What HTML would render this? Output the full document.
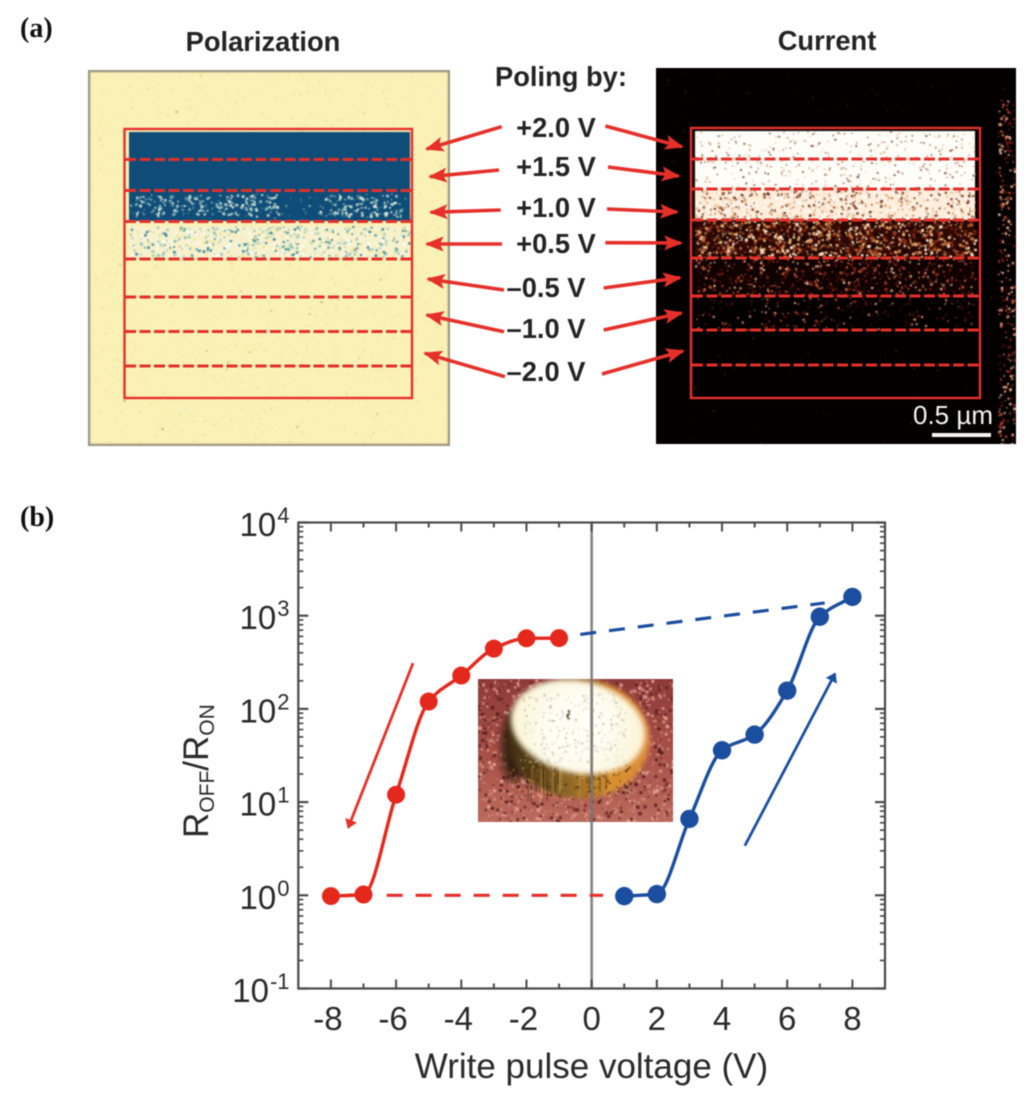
<!DOCTYPE html>
<html lang="en">
<head>
<meta charset="utf-8">
<title>Polarization and current maps with resistance ratio hysteresis</title>
<style>
html,body{margin:0;padding:0;background:#fff;}
#page{position:relative;width:1024px;height:1097px;overflow:hidden;background:#fff;font-family:"Liberation Sans",sans-serif;}
canvas{position:absolute;filter:blur(.6px);}
svg{position:absolute;left:0;top:0;}
.soft{filter:blur(.4px);}
</style>
</head>
<body>
<div id="page">
<canvas id="polar" width="362" height="376" style="left:88px;top:70px"></canvas>
<canvas id="current" width="360" height="376" style="left:656px;top:68px"></canvas>
<canvas id="inset" width="195" height="143" style="left:478px;top:679px"></canvas>

<svg id="overlay" class="soft" width="1024" height="1097" viewBox="0 0 1024 1097">
  <defs>
    <marker id="redHead" viewBox="0 0 10 8" refX="9" refY="4" markerWidth="19" markerHeight="15" markerUnits="userSpaceOnUse" orient="auto"><path d="M0 0L10 4L0 8L2 4Z" fill="#e5302a"/></marker>
  </defs>
  <text x="20" y="37" font-family="Liberation Serif" font-weight="700" font-size="28" fill="#111">(a)</text>
  <text x="20" y="526" font-family="Liberation Serif" font-weight="700" font-size="28" fill="#111">(b)</text>
  <g font-family="Liberation Sans" font-weight="700" font-size="27.3" fill="#242424" text-anchor="middle">
    <text x="263" y="51">Polarization</text>
    <text x="827" y="50">Current</text>
    <text x="561" y="86">Poling by:</text>
    <text x="556" y="137">+2.0 V</text>
    <text x="556" y="176">+1.5 V</text>
    <text x="556" y="217">+1.0 V</text>
    <text x="556" y="253">+0.5 V</text>
    <text x="546" y="297">–0.5 V</text>
    <text x="546" y="338">–1.0 V</text>
    <text x="546" y="381">–2.0 V</text>
  </g>
  <g fill="none" stroke="#e5302a" stroke-width="2.4">
    <rect x="124.5" y="129" width="287.5" height="269"/>
    <g stroke-dasharray="11 3.5" stroke-width="3">
      <line x1="125" x2="411" y1="159.5" y2="159.5"/>
      <line x1="125" x2="411" y1="190.5" y2="190.5"/>
      <line x1="125" x2="411" y1="221.5" y2="221.5"/>
      <line x1="125" x2="411" y1="259" y2="259"/>
      <line x1="125" x2="411" y1="297" y2="297"/>
      <line x1="125" x2="411" y1="331.5" y2="331.5"/>
      <line x1="125" x2="411" y1="366" y2="366"/>
    </g>
  </g>
  <g fill="none" stroke="#e5302a" stroke-width="2.4">
    <rect x="691" y="128" width="289" height="270"/>
    <g stroke-dasharray="11 3.5" stroke-width="3">
      <line x1="692" x2="979" y1="159" y2="159"/>
      <line x1="692" x2="979" y1="189" y2="189"/>
      <line x1="692" x2="979" y1="220" y2="220"/>
      <line x1="692" x2="979" y1="258" y2="258"/>
      <line x1="692" x2="979" y1="296" y2="296"/>
      <line x1="692" x2="979" y1="330" y2="330"/>
      <line x1="692" x2="979" y1="365" y2="365"/>
    </g>
  </g>
  <g stroke="#e5302a" stroke-width="3.6" fill="none">
    <line x1="501.7" y1="126.7" x2="426.7" y2="149" marker-end="url(#redHead)"/>
    <line x1="499" y1="170" x2="430" y2="176.7" marker-end="url(#redHead)"/>
    <line x1="500.7" y1="210" x2="430.7" y2="212.3" marker-end="url(#redHead)"/>
    <line x1="502" y1="244" x2="426.7" y2="244" marker-end="url(#redHead)"/>
    <line x1="504" y1="290" x2="428" y2="279" marker-end="url(#redHead)"/>
    <line x1="504" y1="331.7" x2="426.7" y2="315" marker-end="url(#redHead)"/>
    <line x1="505" y1="376.7" x2="425" y2="353.3" marker-end="url(#redHead)"/>
    <line x1="605.4" y1="126" x2="682" y2="146.7" marker-end="url(#redHead)"/>
    <line x1="608" y1="167" x2="678.6" y2="176" marker-end="url(#redHead)"/>
    <line x1="607" y1="209" x2="677" y2="212" marker-end="url(#redHead)"/>
    <line x1="605.4" y1="242.7" x2="681" y2="243" marker-end="url(#redHead)"/>
    <line x1="603.7" y1="288" x2="680" y2="277.7" marker-end="url(#redHead)"/>
    <line x1="603.7" y1="330" x2="681.4" y2="313" marker-end="url(#redHead)"/>
    <line x1="602" y1="374" x2="683" y2="351" marker-end="url(#redHead)"/>
  </g>
  <text x="953" y="424" font-family="Liberation Sans" font-size="26" fill="#f4f4f4" text-anchor="middle">0.5 µm</text>
  <rect x="932" y="433" width="59" height="4" fill="#f4f4f4"/>
</svg>

<svg id="chart" class="soft" width="1024" height="1097" viewBox="0 0 1024 1097"></svg>
</div>

<script>
// ---- Chart data ----
var redVoltages = [-8, -7, -6, -5, -4, -3, -2, -1];
var redRatios = [0.98, 1.02, 12, 120, 228, 443, 572, 575];
var blueVoltages = [1, 2, 3, 4, 5, 6, 7, 8];
var blueRatios = [0.98, 1.03, 6.6, 36, 53, 157, 975, 1590];
var redDashVoltages = [-6.29, 0.35];
var redDashRatios = [1, 1];
var blueDashVoltages = [-0.35, 7.15];
var blueDashRatios = [630, 1370];
var redArrowVoltages = [-5.48, -7.47];
var redArrowRatios = [310, 5.3];
var blueArrowVoltages = [4.7, 7.47];
var blueArrowRatios = [3.4, 240];
var xMajorTicks = [-8, -6, -4, -2, 0, 2, 4, 6, 8];
var xMinorTicks = [-7, -5, -3, -1, 1, 3, 5, 7];
var yDecadeExponents = [-1, 0, 1, 2, 3, 4];
var yMinorFactors = [2, 3, 4, 5, 6, 7, 8, 9];

var plotLeft = 298.3, plotRight = 885, plotTop = 522.5, plotBottom = 988.5;
var xMin = -9, xMax = 9, logMin = -1, logMax = 4;
function xScale(v){ return plotLeft + (v - xMin) / (xMax - xMin) * (plotRight - plotLeft); }
function yScale(r){ return plotBottom - (Math.log10(r) - logMin) / (logMax - logMin) * (plotBottom - plotTop); }

var NS = 'http://www.w3.org/2000/svg';
var chart = document.getElementById('chart');
function mk(tag, attrs, parent){
  var el = document.createElementNS(NS, tag);
  for (var k in attrs) el.setAttribute(k, attrs[k]);
  (parent || chart).appendChild(el);
  return el;
}
// Monotone cubic through the points, so the curve never overshoots a marker.
function smoothPath(xs, ys){
  var px = xs.map(xScale), py = ys.map(yScale), n = px.length;
  var slope = [], tan = [];
  for (var i = 0; i < n - 1; i++) slope.push((py[i + 1] - py[i]) / (px[i + 1] - px[i]));
  tan[0] = slope[0];
  tan[n - 1] = slope[n - 2];
  for (var j = 1; j < n - 1; j++){
    var a = slope[j - 1], b = slope[j];
    tan[j] = a * b <= 0 ? 0 : 2 * a * b / (a + b);
  }
  var d = 'M' + px[0] + ' ' + py[0];
  for (var s = 0; s < n - 1; s++){
    var h = (px[s + 1] - px[s]) / 3;
    d += 'C' + (px[s] + h) + ' ' + (py[s] + tan[s] * h) + ' ' + (px[s + 1] - h) + ' ' + (py[s + 1] - tan[s + 1] * h) + ' ' + px[s + 1] + ' ' + py[s + 1];
  }
  return d;
}

var defs = mk('defs', {});
var mr = mk('marker', {id:'chartRedHead', viewBox:'0 0 10 20', refX:'9', refY:'10', markerWidth:'13', markerHeight:'18', markerUnits:'userSpaceOnUse', orient:'auto'}, defs);
mk('path', {d:'M0 3L10 10L0 17Z', fill:'#e5302a'}, mr);
var mb = mk('marker', {id:'chartBlueHead', viewBox:'0 0 10 20', refX:'9', refY:'10', markerWidth:'13', markerHeight:'18', markerUnits:'userSpaceOnUse', orient:'auto'}, defs);
mk('path', {d:'M0 3L10 10L0 17Z', fill:'#1c4ea0'}, mb);

// zero line
var zero = mk('line', {x1:xScale(0), x2:xScale(0), y1:plotTop, y2:plotBottom, stroke:'#777', 'stroke-width':2.6, opacity:.9});



// plot frame
var frame = mk('rect', {x:plotLeft, y:plotTop, width:plotRight - plotLeft, height:plotBottom - plotTop, fill:'none', stroke:'#4a4a4a', 'stroke-width':2.2});



// x ticks
var xAxis = mk('g', {stroke:'#4a4a4a', 'stroke-width':2});


xMajorTicks.forEach(function(v){
  mk('line', {x1:xScale(v), x2:xScale(v), y1:plotBottom, y2:plotBottom - 9}, xAxis);
  mk('line', {x1:xScale(v), x2:xScale(v), y1:plotTop, y2:plotTop + 9}, xAxis);
});
xMinorTicks.forEach(function(v){
  mk('line', {x1:xScale(v), x2:xScale(v), y1:plotBottom, y2:plotBottom - 5}, xAxis);
  mk('line', {x1:xScale(v), x2:xScale(v), y1:plotTop, y2:plotTop + 5}, xAxis);
});
xMajorTicks.forEach(function(v){
  var t = mk('text', {x:xScale(v) - (v < 0 ? 3 : 0), y:1030, 'text-anchor':'middle', 'font-family':'Liberation Sans', 'font-size':33, fill:'#2a2a2a'});
  t.textContent = String(v);
  
  
});

// y ticks
var yAxis = mk('g', {stroke:'#4a4a4a', 'stroke-width':1.7});


yDecadeExponents.forEach(function(e){
  var base = Math.pow(10, e), yy = yScale(base);
  mk('line', {x1:plotLeft, x2:plotLeft + 10, y1:yy, y2:yy, 'stroke-width':2.2}, yAxis);
  mk('line', {x1:plotRight, x2:plotRight - 10, y1:yy, y2:yy, 'stroke-width':2.2}, yAxis);
  if (e < logMax) yMinorFactors.forEach(function(f){
    var ym = yScale(base * f);
    mk('line', {x1:plotLeft, x2:plotLeft + 5, y1:ym, y2:ym}, yAxis);
    mk('line', {x1:plotRight, x2:plotRight - 5, y1:ym, y2:ym}, yAxis);
  });
  var t = mk('text', {x:289.5, y:yy + 13.5, 'text-anchor':'end', 'font-family':'Liberation Sans', 'font-size':33, fill:'#2a2a2a'});
  
  
  var a = mk('tspan', {}, t);
  a.textContent = '10';
  var b = mk('tspan', {dy:-13, 'font-size':22, dx:1}, t);
  b.textContent = String(e);
});

// axis titles
var xTitle = mk('text', {x:591.5, y:1078, 'text-anchor':'middle', 'font-family':'Liberation Sans', 'font-size':35, fill:'#2a2a2a'});
xTitle.textContent = 'Write pulse voltage (V)';


var yTitle = mk('text', {transform:'translate(208,838) rotate(-90)', 'font-family':'Liberation Sans', 'font-size':35, fill:'#2a2a2a'});


[['R',0,35],['OFF',6,21],['/',-6,35],['R',0,35],['ON',6,21]].forEach(function(p){
  var s = mk('tspan', {dy:p[1], 'font-size':p[2]}, yTitle);
  s.textContent = p[0];
});

// dashed connectors
var redDash = mk('line', {x1:xScale(redDashVoltages[0]), x2:xScale(redDashVoltages[1]), y1:yScale(redDashRatios[0]), y2:yScale(redDashRatios[1]), stroke:'#e5302a', 'stroke-width':3.2, 'stroke-dasharray':'16 13'});


var blueDash = mk('line', {x1:xScale(blueDashVoltages[0]), x2:xScale(blueDashVoltages[1]), y1:yScale(blueDashRatios[0]), y2:yScale(blueDashRatios[1]), stroke:'#1c4ea0', 'stroke-width':3.2, 'stroke-dasharray':'16 13'});



// direction arrows
var redArrow = mk('line', {x1:xScale(redArrowVoltages[0]), y1:yScale(redArrowRatios[0]), x2:xScale(redArrowVoltages[1]), y2:yScale(redArrowRatios[1]), stroke:'#e5302a', 'stroke-width':2.8, 'marker-end':'url(#chartRedHead)'});


var blueArrow = mk('line', {x1:xScale(blueArrowVoltages[0]), y1:yScale(blueArrowRatios[0]), x2:xScale(blueArrowVoltages[1]), y2:yScale(blueArrowRatios[1]), stroke:'#1c4ea0', 'stroke-width':2.8, 'marker-end':'url(#chartBlueHead)'});



// series lines and points
var redLine = mk('path', {d:smoothPath(redVoltages, redRatios), fill:'none', stroke:'#e5281c', 'stroke-width':3.4});


var blueLine = mk('path', {d:smoothPath(blueVoltages, blueRatios), fill:'none', stroke:'#1c4ea0', 'stroke-width':3.4});


redVoltages.forEach(function(v, i){
  var c = mk('circle', {cx:xScale(v), cy:yScale(redRatios[i]), r:9, fill:'#e5281c'});
  
  
});
blueVoltages.forEach(function(v, i){
  var c = mk('circle', {cx:xScale(v), cy:yScale(blueRatios[i]), r:9.2, fill:'#1c4ea0'});
  
  
});

// ---- Image textures (decorative, fixed seed) ----
var seed = 12345;
function rnd(){ seed = (seed * 1664525 + 1013904223) % 4294967296; return seed / 4294967296; }
function dots(ctx, x0, y0, x1, y1, n, colors, minS, maxS){
  for (var i = 0; i < n; i++){
    ctx.fillStyle = colors[Math.floor(rnd() * colors.length)];
    var s = minS + rnd() * (maxS - minS);
    ctx.fillRect(x0 + rnd() * (x1 - x0), y0 + rnd() * (y1 - y0), s, s);
  }
}

(function(){
  var c = document.getElementById('polar').getContext('2d');
  var ox = 88, oy = 70;
  c.fillStyle = '#faf1b6'; c.fillRect(0, 0, 362, 376);
  dots(c, 0, 0, 362, 376, 1600, ['#f3e8a2','#fcf7cc','#f0e4a6','#f6eca8'], 1, 2.5);
  dots(c, 0, 0, 362, 376, 30, ['#c0b888','#a8ac88'], 1, 2);
  c.strokeStyle = '#9c9580'; c.lineWidth = 2.5; c.strokeRect(1, 1, 360, 374);
  c.fillStyle = '#0f4d78'; c.fillRect(129 - ox, 132 - oy, 281, 89);
  // pale clusters in the +1.0 V band
  [150, 185, 215, 240, 262, 335, 360, 385].forEach(function(cx){
    dots(c, cx - 16 - ox, 194 - oy, cx + 16 - ox, 216 - oy, 42, ['#dbe8d8','#f0f4e0','#7fb2b8','#b8d4cc'], 1, 2.6);
  });
  dots(c, 129 - ox, 193 - oy, 410 - ox, 221 - oy, 90, ['#5e9aa8','#2f7a94','#a8c8c4'], 1, 2);
  c.fillStyle = '#f7f1cc'; c.fillRect(129 - ox, 226 - oy, 281, 32);
  dots(c, 129 - ox, 226 - oy, 410 - ox, 258 - oy, 620, ['#fff','#fff','#e6f1e4','#7ab8b4','#4a96a0','#a8d0b4','#f3e07c','#2a7890'], 1, 2.6);
}());

(function(){
  var c = document.getElementById('current').getContext('2d');
  var ox = 656, oy = 68;
  c.fillStyle = '#050000'; c.fillRect(0, 0, 360, 376);
  dots(c, 0, 0, 360, 376, 150, ['#3a0d08','#4a1a10','#250805'], 1, 2);
  dots(c, 342, 30, 358, 376, 320, ['#c0503a','#7a1e14','#e8a080','#4f1008','#f0c8a8'], 1, 2.6);
  function band(y0, y1, base, n, cols, s0, s1){
    c.fillStyle = base; c.fillRect(695 - ox, y0 - oy, 280, y1 - y0);
    dots(c, 695 - ox, y0 - oy, 975 - ox, y1 - oy, n, cols, s0, s1);
  }
  band(131, 189, '#fffdf8', 380, ['#b07a50','#d8a878','#8a4a28','#e8c8a0','#5a2c14'], 1, 1.8);
  band(189, 220, '#fdeedc', 800, ['#fff','#fff','#d49a64','#8a3e1c','#e8c090','#5a1c0c'], 1, 2.4);
  band(220, 258, '#2c0804', 1400, ['#d88a50','#f0c080','#8a2a14','#fff0d8','#b45c2c','#5a1408','#0e0201'], 1, 3);
  band(258, 296, '#100201', 620, ['#7a1e12','#c0583c','#e8b898','#4f100a','#8a2a18'], 1, 2.4);
  band(296, 330, '#050000', 230, ['#6a1a10','#a84830','#4a0e08','#d89878'], 1, 2.2);
}());

(function(){
  var c = document.getElementById('inset').getContext('2d');
  var g = c.createLinearGradient(0, 0, 0, 143);
  g.addColorStop(0, '#8e3a3c'); g.addColorStop(.5, '#a85048'); g.addColorStop(1, '#bb6a5c');
  c.fillStyle = g; c.fillRect(0, 0, 195, 143);
  dots(c, 0, 0, 195, 143, 1300, ['#6c2a2c','#d08a7c','#c77a68','#592020','#e0a090'], 1, 3.4);
  var ox = 478, oy = 679;
  c.save();
  c.filter = 'blur(5px)';
  c.fillStyle = '#2c1a0e';
  c.beginPath(); c.ellipse(516 - ox, 745 - oy, 14, 36, .05, 0, 7); c.fill();
  c.restore();
  c.save();
  c.filter = 'blur(2px)';
  var r = c.createLinearGradient(505 - ox, 0, 650 - ox, 0);
  r.addColorStop(0, '#3c2812'); r.addColorStop(.35, '#7a5c24'); r.addColorStop(.75, '#d8902e'); r.addColorStop(1, '#e08c40');
  c.fillStyle = r;
  c.beginPath(); c.ellipse(578 - ox, 738 - oy, 72, 60, .08, 0, 7); c.fill();
  c.restore();
  dots(c, 510 - ox, 760 - oy, 630 - ox, 796 - oy, 150, ['#2c1a0c','#4a2c10','#6a4418','#e0a040'], 1, 2);
  for (var i = 0; i < 30; i++){
    c.fillStyle = rnd() < .6 ? 'rgba(60,35,12,.45)' : 'rgba(240,190,90,.3)';
    c.fillRect(525 - ox + rnd() * 85, 758 - oy + rnd() * 14, 1.5, 18 + rnd() * 16);
  }
  c.save();
  c.filter = 'blur(2.5px)';
  var w = c.createRadialGradient(578 - ox, 726 - oy, 30, 578 - ox, 726 - oy, 74);
  w.addColorStop(0, '#fffdf4'); w.addColorStop(.8, '#fbf4d6'); w.addColorStop(1, '#e0c880');
  c.fillStyle = w;
  c.beginPath(); c.ellipse(578 - ox, 727 - oy, 68, 46, .22, 0, 7); c.fill();
  c.restore();
  c.globalAlpha = .7;
  dots(c, 520 - ox, 692 - oy, 625 - ox, 762 - oy, 260, ['#c8c4a8','#a8a488','#dcd8c0'], 1, 2);
  c.globalAlpha = 1;
  dots(c, 566 - ox, 710 - oy, 569 - ox, 718 - oy, 8, ['#3a3a2a'], 1, 2);
  c.fillStyle = 'rgba(70,60,60,.2)'; c.fillRect(xScale(0) - 1.2 - ox, 0, 2.4, 143);
}());
</script>
</body>
</html>
